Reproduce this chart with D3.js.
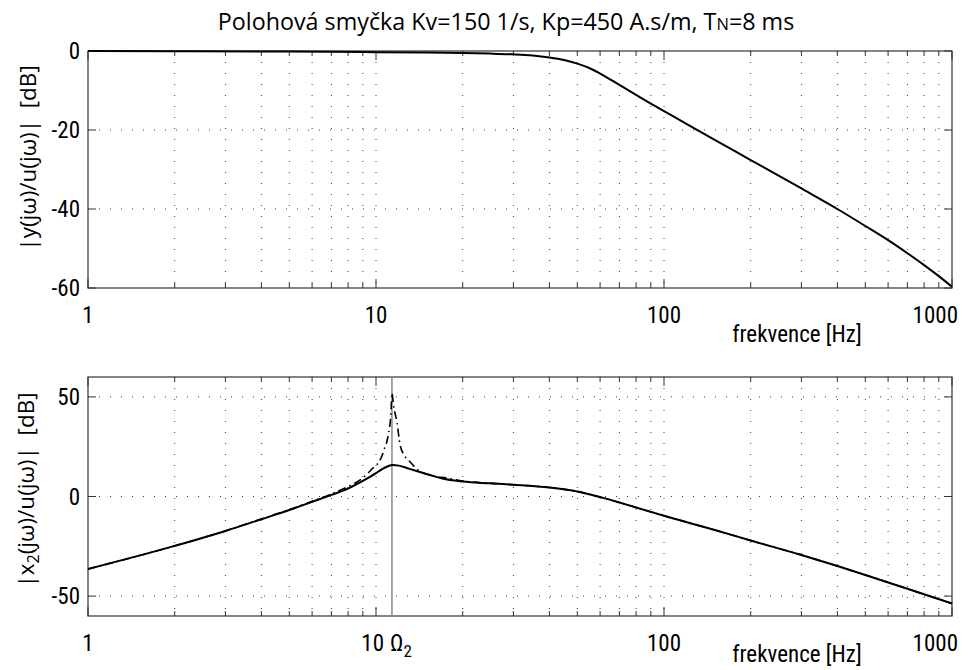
<!DOCTYPE html>
<html><head><meta charset="utf-8">
<script src="https://cdn.jsdelivr.net/npm/d3@7"></script>
<style>
html,body{margin:0;padding:0;background:#fff;}
svg text{white-space:pre;}
.tk{font-family:"Liberation Sans Narrow","Roboto Condensed","Liberation Sans",sans-serif;font-size:23px;fill:#000;}
.ttl{font-family:"Open Sans","Noto Sans",sans-serif;font-size:23.3px;fill:#000;}
.yl{font-family:"Open Sans","Noto Sans",sans-serif;font-size:22.5px;fill:#000;}
</style></head>
<body>
<svg id="c" width="970" height="670"></svg>
<script>
// ---- data ----
const titleText = "Polohová smyčka Kv=150 1/s, Kp=450 A.s/m, T";
const xTicks = [1, 10, 100, 1000];
const topYTicks = [0, -20, -40, -60];
const botYTicks = [50, 0, -50];
const omega2 = 11.36;

const freqTop = [1, 2, 5, 10, 15, 20, 25, 30, 35, 40, 45, 50, 55, 60, 70, 80, 90, 100, 120, 150, 200, 300, 400, 500, 600, 700, 800, 900, 1000];
const magTop  = [0, -0.05, -0.15, -0.3, -0.4, -0.5, -0.65, -0.85, -1.15, -1.65, -2.3, -3.2, -4.3, -5.7, -8.6, -11.1, -13.3, -15.2, -18.5, -22.5, -27.6, -34.8, -40.0, -44.3, -47.9, -51.2, -54.2, -57.0, -59.7];

const freqSolid = [1, 2, 3, 4, 5, 6, 7, 8, 9, 10, 10.5, 11, 11.4, 12, 13, 15.4, 17, 20, 25, 30, 40, 50, 60, 70, 80, 100, 150, 200, 300, 400, 500, 700, 1000];
const magSolid  = [-36.4, -24.8, -17.3, -11.4, -6.8, -2.7, 0.8, 4.0, 7.8, 11.7, 13.8, 15.2, 15.8, 15.5, 14.0, 10.8, 9.0, 7.5, 6.6, 5.9, 4.5, 2.5, -0.3, -3.0, -5.5, -9.7, -16.8, -22.1, -29.4, -34.9, -39.4, -46.3, -53.7];

const freqDash = [1, 2, 3, 4, 5, 6, 7, 8, 9, 9.76, 10.33, 10.7, 11.0, 11.27, 11.36, 11.5, 11.83, 12.12, 12.5, 13.12, 14.0, 15.76, 17.62, 20, 25, 30, 40, 50, 60, 70, 80, 100, 150, 200, 300, 400, 500, 700, 1000];
const magDash  = [-36.4, -24.8, -17.3, -11.3, -6.6, -2.4, 1.3, 5.0, 9.3, 14.3, 18.3, 24.0, 30.0, 42.0, 52.0, 46.0, 37.0, 26.0, 21.0, 17.4, 13.3, 10.3, 9.3, 7.8, 6.6, 5.9, 4.5, 2.5, -0.3, -3.0, -5.5, -9.7, -16.8, -22.1, -29.4, -34.9, -39.4, -46.3, -53.7];

// ---- layout ----
const svg = d3.select("#c");
const L = 88, R = 952;
const x = d3.scaleLog().domain([1, 1000]).range([L, R]);
const panels = [
  {top: 51, bottom: 288, dom: [-60, 0], ticks: topYTicks},
  {top: 377, bottom: 616, dom: [-60, 60], ticks: botYTicks}
];
panels.forEach(p => p.y = d3.scaleLinear().domain(p.dom).range([p.bottom, p.top]));

const minor = [];
[1, 10, 100].forEach(d => { for (let k = 2; k <= 9; k++) minor.push(d * k); });

panels.forEach((p, i) => {
  const g = svg.append("g");
  // grid
  g.selectAll(".gv").data(minor.concat([10, 100])).enter().append("line")
    .attr("x1", d => x(d)).attr("x2", d => x(d)).attr("y1", p.top).attr("y2", p.bottom)
    .attr("stroke", "#000").attr("stroke-width", 1).attr("stroke-dasharray", "1,10").attr("opacity", 0.75);
  g.selectAll(".gh").data(p.ticks.filter(t => t > p.dom[0] && t < p.dom[1])).enter().append("line")
    .attr("x1", L).attr("x2", R).attr("y1", d => p.y(d)).attr("y2", d => p.y(d))
    .attr("stroke", "#000").attr("stroke-width", 1).attr("stroke-dasharray", "1,10").attr("opacity", 0.75);
  // ticks inside
  const tk = g.append("g").attr("stroke", "#333").attr("stroke-width", 1);
  minor.forEach(d => {
    tk.append("line").attr("x1", x(d)).attr("x2", x(d)).attr("y1", p.top).attr("y2", p.top + 5);
    tk.append("line").attr("x1", x(d)).attr("x2", x(d)).attr("y1", p.bottom).attr("y2", p.bottom - 5);
  });
  xTicks.forEach(d => {
    tk.append("line").attr("x1", x(d)).attr("x2", x(d)).attr("y1", p.top).attr("y2", p.top + 9);
    tk.append("line").attr("x1", x(d)).attr("x2", x(d)).attr("y1", p.bottom).attr("y2", p.bottom - 9);
  });
  p.ticks.forEach(t => {
    tk.append("line").attr("x1", L).attr("x2", L + 8).attr("y1", p.y(t)).attr("y2", p.y(t));
    tk.append("line").attr("x1", R).attr("x2", R - 8).attr("y1", p.y(t)).attr("y2", p.y(t));
  });
  // frame
  g.append("rect").attr("x", L).attr("y", p.top).attr("width", R - L).attr("height", p.bottom - p.top)
    .attr("fill", "none").attr("stroke", "#333").attr("stroke-width", 1.2);
  // y tick labels
  g.selectAll(".yt").data(p.ticks).enter().append("text").attr("class", "tk")
    .attr("x", 80).attr("y", d => p.y(d)).attr("dy", "0.36em").attr("text-anchor", "end")
    .text(d => d);
  // x tick labels
  const by = p.bottom + 35;
  xTicks.forEach(d => {
    let anchor = "middle", xx = x(d), lbl = String(d);
    if (d === 1000) { anchor = "end"; xx = 958; }
    if (i === 1 && d === 10) { anchor = "end"; xx = 384; }
    g.append("text").attr("class", "tk").attr("x", xx).attr("y", by).attr("text-anchor", anchor).text(lbl);
  });
  g.append("text").attr("class", "tk").attr("x", 797).attr("y", i ? 662 : 342)
    .attr("text-anchor", "middle").text("frekvence [Hz]");
});

// Omega2 label & line
const pb = panels[1];
const om = svg.append("text").attr("class", "tk").attr("x", 390).attr("y", pb.bottom + 35);
om.append("tspan").text("Ω");
om.append("tspan").attr("font-size", "17px").attr("dy", 6).text("2");
svg.append("line").attr("x1", x(omega2)).attr("x2", x(omega2)).attr("y1", pb.top).attr("y2", pb.bottom)
  .attr("stroke", "#888").attr("stroke-width", 1.5);

// curves
const pt = panels[0];
const lineTop = d3.line().x(d => x(d[0])).y(d => pt.y(d[1])).curve(d3.curveMonotoneX);
svg.append("path").datum(freqTop.map((f, i) => [f, magTop[i]])).attr("d", lineTop)
  .attr("fill", "none").attr("stroke", "#000").attr("stroke-width", 2);

const lineBot = d3.line().x(d => x(d[0])).y(d => pb.y(d[1])).curve(d3.curveMonotoneX);
svg.append("path").datum(freqDash.map((f, i) => [f, magDash[i]])).attr("d", lineBot)
  .attr("fill", "none").attr("stroke", "#000").attr("stroke-width", 1.6).attr("stroke-dasharray", "8,4,1.5,4");
svg.append("path").datum(freqSolid.map((f, i) => [f, magSolid[i]])).attr("d", lineBot)
  .attr("fill", "none").attr("stroke", "#000").attr("stroke-width", 2);

// title
const t = svg.append("text").attr("class", "ttl").attr("x", 506).attr("y", 30).attr("text-anchor", "middle");
t.append("tspan").text(titleText);
t.append("tspan").attr("font-size", "16.5px").text("N");
t.append("tspan").text("=8 ms");

// y labels
svg.append("text").attr("class", "yl").attr("transform", "translate(36,158) rotate(-90)")
  .attr("text-anchor", "middle").text("|y(jω)/u(jω)|  [dB]");
const yl2 = svg.append("text").attr("class", "yl").attr("transform", "translate(34,490) rotate(-90)")
  .attr("text-anchor", "middle");
yl2.append("tspan").text("|x");
yl2.append("tspan").attr("font-size", "16px").attr("dy", 5).text("2");
yl2.append("tspan").attr("dy", -5).text("(jω)/u(jω)|  [dB]");
</script>
</body></html>
